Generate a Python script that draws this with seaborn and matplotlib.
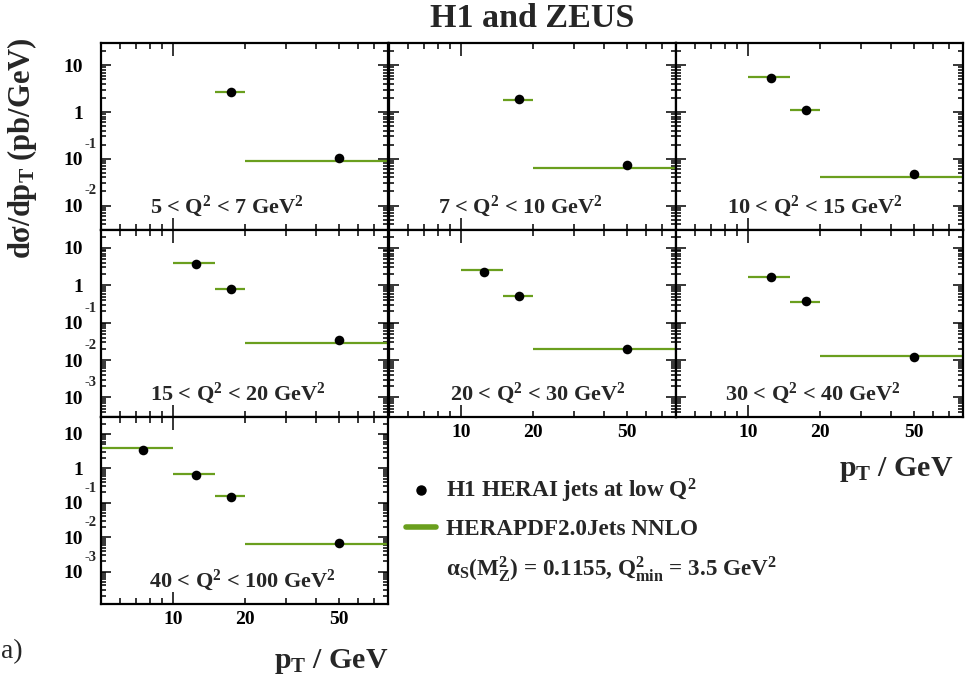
import numpy as np
import pandas as pd
import matplotlib
matplotlib.use("Agg")
import matplotlib.pyplot as plt
import seaborn as sns
from matplotlib.lines import Line2D
from matplotlib.ticker import FixedLocator, FuncFormatter, LogLocator, NullFormatter

# --- data --------------------------------------------------------------
q2_labels = [
    r"5 < Q$^{2}$ < 7 GeV$^{2}$",
    r"7 < Q$^{2}$ < 10 GeV$^{2}$",
    r"10 < Q$^{2}$ < 15 GeV$^{2}$",
    r"15 < Q$^{2}$ < 20 GeV$^{2}$",
    r"20 < Q$^{2}$ < 30 GeV$^{2}$",
    r"30 < Q$^{2}$ < 40 GeV$^{2}$",
    r"40 < Q$^{2}$ < 100 GeV$^{2}$",
]
pt_low = [5, 10, 15, 20]
pt_high = [10, 15, 20, 80]
pt_center = [7.5, 12.5, 17.5, 50]

nan = np.nan
# H1 measurement (pb/GeV), one row per Q2 bin, one column per pT bin
data_xsec = [
    [nan, nan, 2.70, 0.104],
    [nan, nan, 1.86, 0.072],
    [nan, 5.40, 1.10, 0.048],
    [nan, 3.73, 0.80, 0.034],
    [nan, 2.28, 0.52, 0.0203],
    [nan, 1.68, 0.39, 0.0122],
    [3.50, 0.63, 0.150, 0.0069],
]
# HERAPDF2.0Jets NNLO prediction
theory_xsec = [
    [nan, nan, 2.62, 0.088],
    [nan, nan, 1.80, 0.065],
    [nan, 5.64, 1.13, 0.041],
    [nan, 3.87, 0.78, 0.028],
    [nan, 2.52, 0.51, 0.020],
    [nan, 1.65, 0.36, 0.0127],
    [3.80, 0.70, 0.154, 0.0062],
]

GREEN = "#6a9f1e"
SERIF = "Liberation Serif"

sns.set_theme(style="ticks")
plt.rcParams["font.family"] = [SERIF, "DejaVu Serif"]
plt.rcParams["font.weight"] = "bold"
plt.rcParams["mathtext.fontset"] = "custom"
plt.rcParams["mathtext.rm"] = SERIF + ":bold"
plt.rcParams["mathtext.it"] = SERIF + ":bold"
plt.rcParams["mathtext.bf"] = SERIF + ":bold"
plt.rcParams["mathtext.default"] = "rm"

W, H = 966, 684
fig = plt.figure(figsize=(W / 100, H / 100), dpi=100)

col_left = [101, 389, 676]
col_width = 287
row_top = [43, 230, 417]
row_height = 187
row_ylim = [(3.0e-3, 30), (3.0e-4, 30), (1.15e-4, 31)]
label_x = [0.170, 0.170, 0.176, 0.170, 0.214, 0.170, 0.166]


def y_label(v, pos):
    if np.isclose(v, 1):
        return "1"
    return "10"


def x_minor_label(v, pos):
    return f"{v:.0f}" if v in (20, 50) else ""


panels = [(0, 0), (0, 1), (0, 2), (1, 0), (1, 1), (1, 2), (2, 0)]
for i, (r, c) in enumerate(panels):
    ax = fig.add_axes([col_left[c] / W, 1 - (row_top[r] + row_height) / H,
                       col_width / W, row_height / H])
    df = pd.DataFrame({"pt": pt_center, "lo": pt_low, "hi": pt_high,
                       "data": data_xsec[i], "theory": theory_xsec[i]}).dropna()

    ax.hlines(df["theory"], df["lo"], df["hi"], color=GREEN, lw=1.6, zorder=2)
    sns.scatterplot(data=df, x="pt", y="data", ax=ax, color="black", s=48,
                    linewidth=0, zorder=3, legend=False)

    ax.set_xscale("log")
    ax.set_yscale("log")
    ax.set_xlim(5, 80)
    ax.set_ylim(*row_ylim[r])
    ax.set_xlabel("")
    ax.set_ylabel("")

    ax.xaxis.set_major_locator(FixedLocator([10]))
    ax.xaxis.set_minor_locator(FixedLocator([6, 7, 8, 9, 20, 30, 40, 50, 60, 70]))
    ax.yaxis.set_major_locator(FixedLocator([10, 1, 0.1, 0.01, 0.001]))
    ax.yaxis.set_minor_locator(LogLocator(base=10, subs=np.arange(2, 10), numticks=20))
    ax.yaxis.set_minor_formatter(NullFormatter())

    show_x = (r == 2) or (r == 1 and c > 0)
    if show_x:
        ax.xaxis.set_major_formatter(FuncFormatter(lambda v, p: "10"))
        ax.xaxis.set_minor_formatter(FuncFormatter(x_minor_label))
    else:
        ax.xaxis.set_major_formatter(NullFormatter())
        ax.xaxis.set_minor_formatter(NullFormatter())

    if c == 0:
        ax.yaxis.set_major_formatter(FuncFormatter(y_label))
        lo_lim, hi_lim = row_ylim[r]
        for e in (-1, -2, -3):
            if lo_lim <= 10.0 ** e <= hi_lim:
                ax.annotate(str(e), xy=(0, 10.0 ** e),
                            xycoords=("axes fraction", "data"),
                            xytext=(-3, 10.5), textcoords="offset points",
                            ha="right", va="center", fontsize=10.5,
                            fontweight="bold")
    else:
        ax.yaxis.set_major_formatter(NullFormatter())

    ax.tick_params(axis="both", which="both", direction="in",
                   top=True, right=True, width=1.1, colors="black")
    ax.tick_params(axis="y", which="major", length=7, pad=13, labelsize=14)
    ax.tick_params(axis="y", which="minor", length=3.5)
    ax.tick_params(axis="x", which="major", length=9, pad=5, labelsize=14)
    ax.tick_params(axis="x", which="minor", length=4.5, pad=5, labelsize=14)
    for s in ax.spines.values():
        s.set_linewidth(1.6)
        s.set_color("black")

    ax.text(label_x[i], 0.09, q2_labels[i], transform=ax.transAxes,
            ha="left", va="baseline", fontsize=16, fontweight="bold")

# titles and axis labels
fig.text(532 / W, 1 - 27 / H, "H1 and ZEUS", ha="center", va="baseline",
         fontsize=24.5, fontweight="bold")
fig.text(22 / W, 1 - 37 / H, r"d$\sigma$/dp$_{T}$ (pb/GeV)", rotation=90,
         ha="center", va="top", fontsize=22, fontweight="bold")
fig.text(388 / W, 1 - 662 / H, r"p$_{T}$ / GeV", ha="right", va="center",
         fontsize=21.5, fontweight="bold")
fig.text(953 / W, 1 - 470 / H, r"p$_{T}$ / GeV", ha="right", va="center",
         fontsize=21.5, fontweight="bold")
fig.text(1 / W, 1 - 652 / H, "a)", ha="left", va="center",
         fontsize=20, fontweight="normal")

# legend
handles = [
    Line2D([], [], marker="o", color="black", ls="none", markersize=6.5),
    Line2D([], [], color=GREEN, lw=4),
    Line2D([], [], color="none"),
]
labels = [
    r"H1 HERAI jets at low Q$^{2}$",
    "HERAPDF2.0Jets NNLO",
    r"$\alpha_{S}(M_{Z}^{2})$ = 0.1155, Q$_{min}^{2}$ = 3.5 GeV$^{2}$",
]
fig.legend(handles, labels, loc="upper left",
           bbox_to_anchor=(406 / W, 1 - 477 / H), frameon=False,
           handlelength=1.3, handletextpad=0.42,
           labelspacing=0.6, borderpad=0, borderaxespad=0,
           prop={"family": SERIF, "weight": "bold", "size": 16.7})

fig.savefig("out.png", dpi=100)
